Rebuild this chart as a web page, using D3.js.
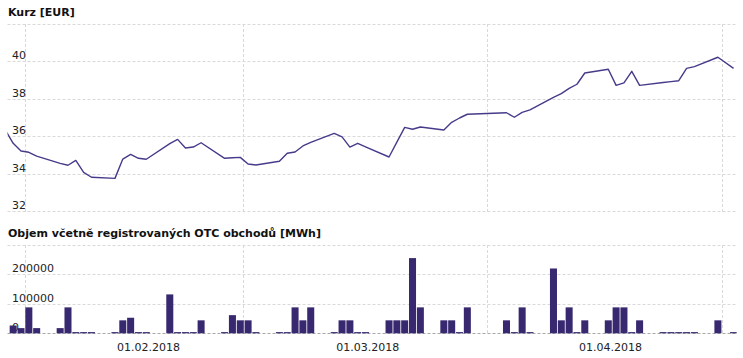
<!DOCTYPE html>
<html><head><meta charset="utf-8">
<script src="https://cdn.jsdelivr.net/npm/d3@7"></script>
<style>
html,body{margin:0;padding:0;background:#fff;}
svg{display:block;font-family:"DejaVu Sans",Verdana,sans-serif;}
</style></head>
<body><svg id="c" width="743" height="358"></svg>
<script>
// ---- data ----
const dates = [
 "2018-01-15","2018-01-16","2018-01-17","2018-01-18","2018-01-19",
 "2018-01-22","2018-01-23","2018-01-24","2018-01-25","2018-01-26",
 "2018-01-29","2018-01-30","2018-01-31","2018-02-01","2018-02-02",
 "2018-02-05","2018-02-06","2018-02-07","2018-02-08","2018-02-09",
 "2018-02-12","2018-02-13","2018-02-14","2018-02-15","2018-02-16",
 "2018-02-19","2018-02-20","2018-02-21","2018-02-22","2018-02-23",
 "2018-02-26","2018-02-27","2018-02-28","2018-03-01","2018-03-02",
 "2018-03-05","2018-03-06","2018-03-07","2018-03-08","2018-03-09",
 "2018-03-12","2018-03-13","2018-03-14","2018-03-15","2018-03-16",
 "2018-03-19","2018-03-20","2018-03-21","2018-03-22","2018-03-23",
 "2018-03-26","2018-03-27","2018-03-28","2018-03-29","2018-03-30",
 "2018-04-02","2018-04-03","2018-04-04","2018-04-05","2018-04-06",
 "2018-04-09","2018-04-10","2018-04-11","2018-04-12","2018-04-13",
 "2018-04-16","2018-04-17","2018-04-18"
];
const price = [
 36.31,35.61,35.20,35.13,34.93,
 34.54,34.44,34.70,34.06,33.80,
 33.74,34.77,35.02,34.81,34.76,
 35.59,35.82,35.36,35.41,35.64,
 34.81,34.84,34.86,34.51,34.45,
 34.65,35.08,35.15,35.47,35.66,
 36.14,35.95,35.41,35.61,35.42,
 34.88,35.67,36.46,36.36,36.48,
 36.32,36.73,36.96,37.16,null,
 null,37.24,37.00,37.26,37.39,
 38.06,38.26,38.54,38.76,39.36,
 39.56,38.70,38.83,39.45,38.70,
 38.85,38.90,38.95,39.61,39.70,
 40.20,null,39.61
];
const volume = [
 null,26280,17520,87600,17520,
 17520,87600,0,0,0,
 0,43800,52560,0,0,
 131400,0,0,0,43800,
 0,61320,43800,43800,0,
 0,0,87600,43800,87600,
 0,43800,43800,0,0,
 43800,43800,43800,254040,87600,
 43800,43800,0,87600,null,
 null,43800,0,87600,0,
 219000,43800,87600,0,43800,
 43800,87600,87600,0,43800,
 0,0,0,0,0,
 43800,null,0
];
const priceTicks = [32,34,36,38,40];
const priceGrid = [32,34,36,38,40,42];
const volTicks = [0,100000,200000];
const volGrid = [0,100000,200000,300000];
const xTickLabels = ["2018-02-01","2018-03-01","2018-04-01"];
const xGridTimes = ["2018-01-16T05:00","2018-02-13T02:00","2018-03-16T05:00","2018-04-15T05:00"];
const priceTitle = "Kurz [EUR]";
const volTitle = "Objem včetně registrovaných OTC obchodů [MWh]";

// ---- setup ----
const parseD = d3.utcParse("%Y-%m-%d");
const parseT = d3.utcParse("%Y-%m-%dT%H:%M");
const fmt = d3.utcFormat("%d.%m.%Y");
const rows = dates.map((d,i)=>({date:parseD(d), price:price[i], vol:volume[i]}));

const L = 7.5, R = 736.7;
const x = d3.scaleUtc()
  .domain([parseT("2018-01-14T00:00"), parseT("2018-04-17T03:00")])
  .range([L, R]);
const HOUR = 3600e3;
const shiftH = -30.6;           // plotted position of a trading day
const barH = 21.5;              // bar width in hours
const px = d => x(new Date(+d + shiftH*HOUR));

const yP = d3.scaleLinear().domain([32,42]).range([211,23.5]);
const yV = d3.scaleLinear().domain([0,300000]).range([333.3,244.5]);

const svg = d3.select("#c");
const barColor = "#37286f";
const lineColor = "#463b8a";
const gridColor = "#d9d9d9";

svg.append("defs").append("clipPath").attr("id","clipP")
  .append("rect").attr("x",L).attr("y",0).attr("width",R-L).attr("height",358);

// titles
svg.append("text").attr("x",8).attr("y",16).attr("font-size",11).attr("font-weight","bold")
  .attr("fill","#111").text(priceTitle);
svg.append("text").attr("x",8).attr("y",236.5).attr("font-size",11).attr("font-weight","bold")
  .attr("fill","#111").text(volTitle);

function panel(y, grid, top, bottom, baseDark){
  const g = svg.append("g");
  g.selectAll("line.h").data(grid).join("line")
    .attr("x1",L).attr("x2",R)
    .attr("y1",d=>Math.round(y(d))+0.5).attr("y2",d=>Math.round(y(d))+0.5)
    .attr("stroke",(d)=> (baseDark && d===0) ? "#a8a8a8" : gridColor)
    .attr("stroke-dasharray","3,2").attr("stroke-width",1);
  g.selectAll("line.v").data(xGridTimes.map(parseT)).join("line")
    .attr("x1",d=>Math.round(x(d))+0.5).attr("x2",d=>Math.round(x(d))+0.5)
    .attr("y1",Math.round(y(top))).attr("y2",Math.round(y(bottom))+1)
    .attr("stroke",gridColor).attr("stroke-dasharray","3,2").attr("stroke-width",1);
  return g;
}
const gP = panel(yP, priceGrid, 42, 32, false);
const gV = panel(yV, volGrid, 300000, 0, true);

// bars
svg.append("g").attr("clip-path","url(#clipP)")
  .selectAll("rect").data(rows.filter(r=>r.vol!==null)).join("rect")
  .attr("x", r => px(new Date(+r.date - barH/2*HOUR)) )
  .attr("width", r => x(new Date(+r.date + barH*HOUR)) - x(r.date))
  .attr("y", r => Math.min(yV(r.vol), yV(0)-1.2))
  .attr("height", r => Math.max(yV(0)-yV(r.vol), 1.2))
  .attr("fill", barColor);

// line
const line = d3.line().x(r=>px(r.date)).y(r=>yP(r.price));
svg.append("path").attr("clip-path","url(#clipP)")
  .datum(rows.filter(r=>r.price!==null))
  .attr("d", line).attr("fill","none").attr("stroke",lineColor)
  .attr("stroke-width",1.4).attr("stroke-linejoin","round");

// y tick labels (inside plot, above gridline)
gP.selectAll("text").data(priceTicks).join("text")
  .attr("x",12).attr("y",d=>yP(d)-2).attr("font-size",11).attr("fill","#222").text(d=>d);
gV.selectAll("text").data(volTicks).join("text")
  .attr("x",12).attr("y",d=>yV(d)-2).attr("font-size",11).attr("fill","#222").text(d=>d);

// x tick labels
svg.append("g").selectAll("text").data(xTickLabels.map(parseD)).join("text")
  .attr("x",d=>x(d)).attr("y",351).attr("text-anchor","middle")
  .attr("font-size",11).attr("fill","#222").text(d=>fmt(d));
</script></body></html>
